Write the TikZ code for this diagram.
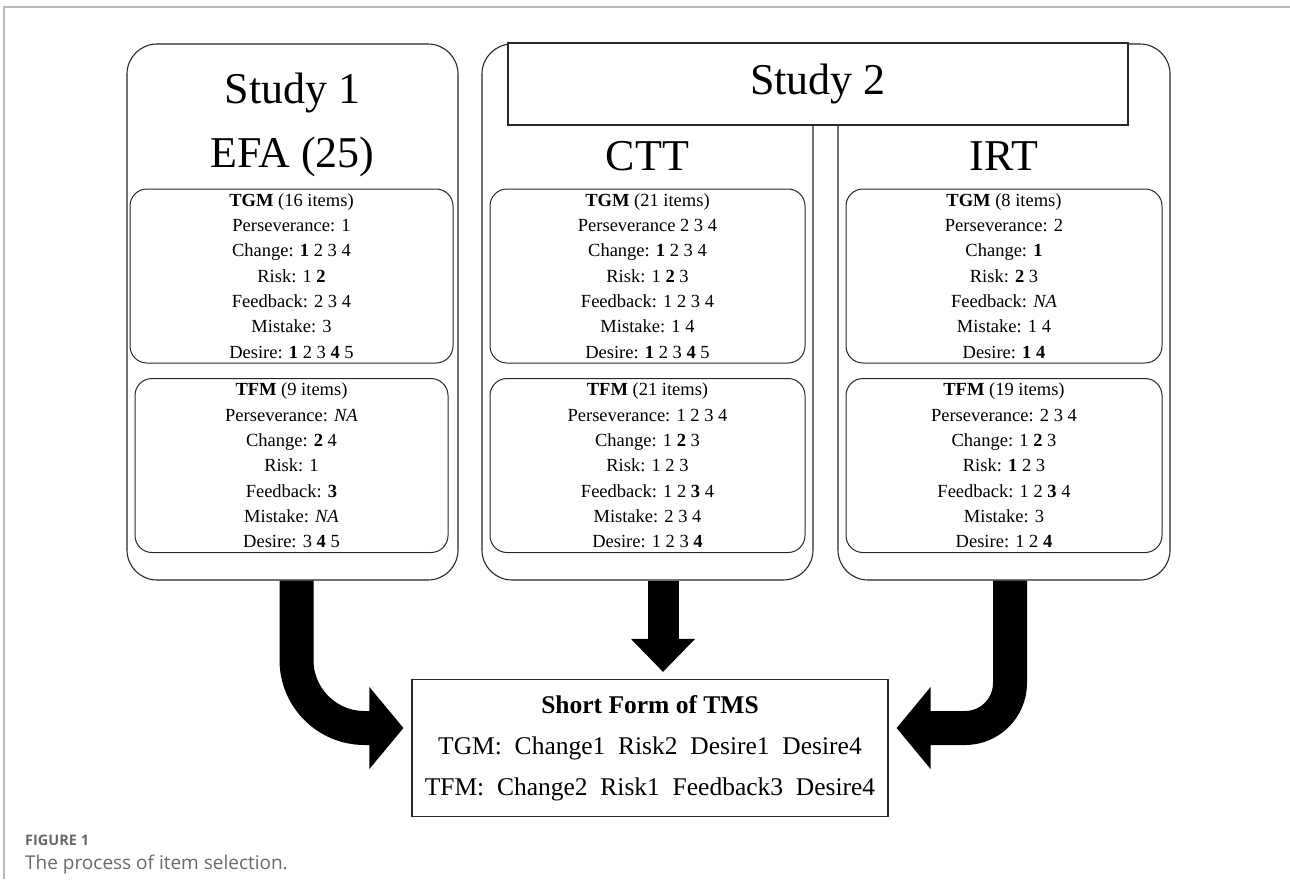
\documentclass[tikz,border=0pt]{standalone}
\usepackage{fontspec}
\setmainfont{Liberation Serif}
\newfontfamily\capfont{Open Sans}
\usepackage{xcolor}
\usetikzlibrary{arrows.meta,positioning,calc}
\definecolor{framegray}{RGB}{185,185,185}
\definecolor{capgray}{RGB}{105,105,105}
\definecolor{boxline}{RGB}{40,40,40}

\begin{document}
\begin{tikzpicture}[x=1pt,y=-1pt,
  studybox/.style={draw=boxline,line width=1.1pt,rounded corners=30pt,fill=white,
                   minimum height=536pt},
  factorbox/.style={draw=boxline,line width=1pt,rounded corners=17pt,align=center,
                    inner sep=1pt,minimum height=174pt,
                    font=\fontsize{18.5}{25.3}\selectfont},
  titletext/.style={font=\fontsize{44}{50}\selectfont,anchor=base},
  bigarrow/.style={line width=34pt,-{Triangle[length=34pt,width=80pt]},shorten >=8pt},
  midarrow/.style={line width=31pt,-{Triangle[length=33pt,width=62pt]},shorten >=7pt}]
  \useasboundingbox (0,0) rectangle (1290,879);
  \draw[framegray,line width=1.5pt] (4,879) -- (4,7) -- (1290,7);

  % three columns
  \node[studybox,minimum width=331pt](study1) at (292.5,312) {};
  \node[studybox,minimum width=331pt](ctt)    at (647.5,312) {};
  \node[studybox,minimum width=332pt](irt)    at (1004,312)  {};
  \node[draw=boxline,line width=1.1pt,fill=white,minimum width=620pt,minimum height=82pt,
        font=\fontsize{44}{50}\selectfont](s2head) at (818,84) {\raisebox{-3pt}{Study 2}};

  \node[titletext](s1title) at (292.5,103) {Study 1};
  \node[titletext](s1efa)   at (292.5,167) {EFA (25)};
  \node[titletext](cttname) at (647.5,170) {CTT};
  \node[titletext](irtname) at (1004,170)  {IRT};

  % factor lists
  \node[factorbox,minimum width=323pt](s1tgm) at (291.5,276)
    {\textbf{TGM} (16 items)\\Perseverance: 1\\Change: \textbf{1} 2 3 4\\Risk: 1 \textbf{2}\\
     Feedback: 2 3 4\\Mistake: 3\\Desire: \textbf{1} 2 3 \textbf{4} 5};
  \node[factorbox,minimum width=313pt](s1tfm) at (291.5,465.5)
    {\textbf{TFM} (9 items)\\Perseverance: \textit{NA}\\Change: \textbf{2} 4\\Risk: 1\\
     Feedback: \textbf{3}\\Mistake: \textit{NA}\\Desire: 3 \textbf{4} 5};
  \node[factorbox,minimum width=315pt](ctttgm) at (647.5,276)
    {\textbf{TGM} (21 items)\\Perseverance 2 3 4\\Change: \textbf{1} 2 3 4\\Risk: 1 \textbf{2} 3\\
     Feedback: 1 2 3 4\\Mistake: 1 4\\Desire: \textbf{1} 2 3 \textbf{4} 5};
  \node[factorbox,minimum width=315pt](ctttfm) at (647.5,465.5)
    {\textbf{TFM} (21 items)\\Perseverance: 1 2 3 4\\Change: 1 \textbf{2} 3\\Risk: 1 2 3\\
     Feedback: 1 2 \textbf{3} 4\\Mistake: 2 3 4\\Desire: 1 2 3 \textbf{4}};
  \node[factorbox,minimum width=316pt](irttgm) at (1004,276)
    {\textbf{TGM} (8 items)\\Perseverance: 2\\Change: \textbf{1}\\Risk: \textbf{2} 3\\
     Feedback: \textit{NA}\\Mistake: 1 4\\Desire: \textbf{1 4}};
  \node[factorbox,minimum width=316pt](irttfm) at (1004,465.5)
    {\textbf{TFM} (19 items)\\Perseverance: 2 3 4\\Change: 1 \textbf{2} 3\\Risk: \textbf{1} 2 3\\
     Feedback: 1 2 \textbf{3} 4\\Mistake: 3\\Desire: 1 2 \textbf{4}};

  % result
  \node[draw=boxline,line width=1.1pt,minimum width=476pt,minimum height=137pt,align=center,
        font=\fontsize{25.5}{41}\selectfont](sform) at (650,748)
    {\textbf{Short Form of TMS}\\TGM:~ Change1~ Risk2~ Desire1~ Desire4\\
     TFM:~ Change2~ Risk1~ Feedback3~ Desire4};

  \coordinate (midin) at ([xshift=13pt]sform.north);
  \draw[bigarrow,rounded corners=68pt]([xshift=4pt]study1.south) |- ([yshift=20pt]sform.west);
  \draw[midarrow](ctt.south -| midin) -- (midin);
  \draw[bigarrow,rounded corners=45pt]([xshift=6pt]irt.south) |- ([yshift=20pt]sform.east);

  % caption
  \node[anchor=base west,font=\capfont\bfseries\fontsize{14.5}{16}\selectfont,text=capgray,
        inner sep=0pt](figlabel) at (25,845) {FIGURE 1};
  \node[anchor=base west,font=\capfont\fontsize{19}{22}\selectfont,text=capgray,
        inner sep=0pt](figcap) at (25,869) {The process of item selection.};
\end{tikzpicture}
\end{document}
